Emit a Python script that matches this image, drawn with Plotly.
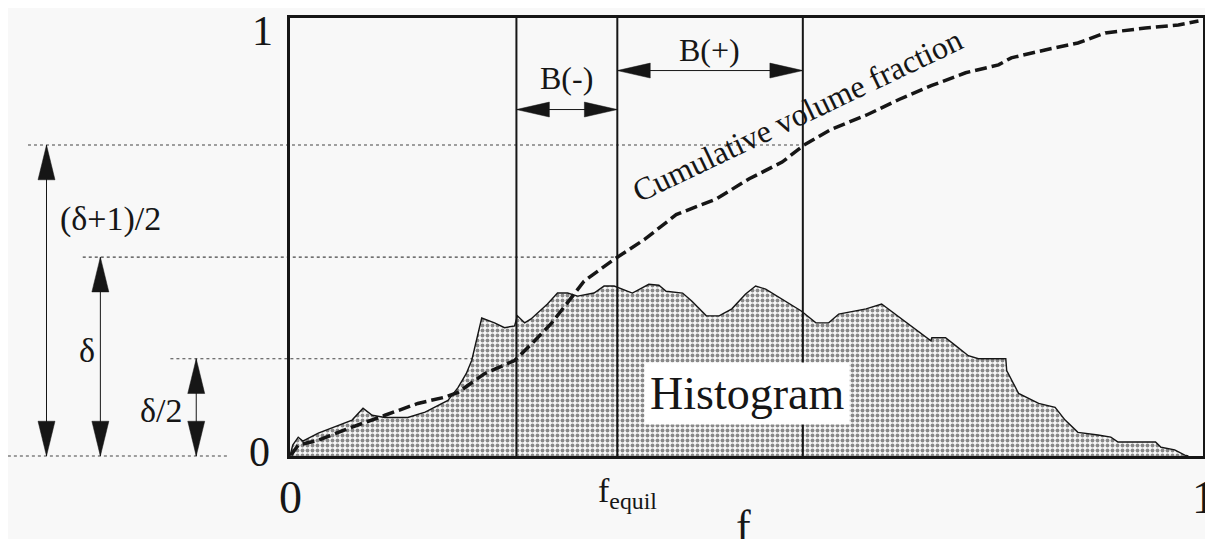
import plotly.graph_objects as go

# ---------------- data ----------------
# histogram outline (f, normalised height)
hist_f = [0.0, 0.003, 0.009, 0.014, 0.031, 0.049, 0.068, 0.080, 0.090, 0.104, 0.129, 0.148,
          0.173, 0.184, 0.193, 0.199, 0.204, 0.210, 0.224, 0.235, 0.246, 0.249, 0.257, 0.264,
          0.282, 0.293, 0.304, 0.315, 0.333, 0.344, 0.355, 0.375, 0.393, 0.404, 0.412, 0.430,
          0.440, 0.456, 0.470, 0.484, 0.499, 0.510, 0.521, 0.539, 0.560, 0.576, 0.590, 0.601,
          0.631, 0.648, 0.667, 0.681, 0.692, 0.702, 0.703, 0.718, 0.729, 0.743, 0.754, 0.784,
          0.785, 0.798, 0.820, 0.838, 0.849, 0.863, 0.885, 0.899, 0.907, 0.948, 0.954, 0.969,
          0.980, 0.984]
hist_h = [0.0, 0.025, 0.043, 0.034, 0.052, 0.066, 0.082, 0.109, 0.093, 0.088, 0.088, 0.100,
          0.127, 0.156, 0.188, 0.218, 0.263, 0.315, 0.304, 0.293, 0.297, 0.320, 0.304, 0.313,
          0.347, 0.372, 0.372, 0.365, 0.372, 0.388, 0.388, 0.372, 0.392, 0.390, 0.376, 0.372,
          0.354, 0.320, 0.320, 0.336, 0.370, 0.388, 0.381, 0.358, 0.331, 0.304, 0.304, 0.324,
          0.336, 0.347, 0.317, 0.297, 0.279, 0.263, 0.270, 0.270, 0.252, 0.229, 0.222, 0.222,
          0.195, 0.143, 0.120, 0.111, 0.082, 0.054, 0.048, 0.043, 0.032, 0.032, 0.020, 0.014,
          0.002, 0.0]

# cumulative volume fraction
cum_f = [0.001, 0.009, 0.031, 0.068, 0.104, 0.140, 0.169, 0.184, 0.213, 0.246, 0.268, 0.286,
         0.308, 0.322, 0.355, 0.388, 0.423, 0.467, 0.503, 0.539, 0.563, 0.593, 0.631, 0.667,
         0.703, 0.740, 0.776, 0.790, 0.827, 0.863, 0.893, 0.937, 0.973, 0.995]
cum_v = [0.002, 0.025, 0.036, 0.066, 0.093, 0.120, 0.134, 0.145, 0.188, 0.218, 0.263, 0.302,
         0.361, 0.399, 0.449, 0.494, 0.551, 0.587, 0.633, 0.671, 0.710, 0.746, 0.778, 0.814,
         0.846, 0.875, 0.893, 0.909, 0.927, 0.943, 0.966, 0.977, 0.984, 0.993]

# characteristic positions
f_bneg, f_equil, f_bpos = 0.248, 0.3585, 0.5617
level_half, level_delta, level_top = 0.222, 0.454, 0.710

# tick labels
y_tick_labels = ["0", "1"]
x_tick_labels = ["0", "f<sub>equil</sub>", "1"]

# ---------------- figure ----------------
# the page body has an 8px default margin, so the figure is 8px smaller
W, H = 1205, 531
ML, MR, MT, MB = 282, 8, 7, 83
PW, PH = W - ML - MR, H - MT - MB
px = 1.0 / PW   # paper units per pixel
py = 1.0 / PH

FONT = "Liberation Serif"
INK = "#161616"
BG = "#f8f8f8"

fig = go.Figure()

fig.add_trace(go.Scatter(
    x=hist_f, y=hist_h, mode="lines", fill="tozeroy",
    line=dict(color=INK, width=1.4),
    fillcolor="rgba(0,0,0,0)",
    fillpattern=dict(shape=".", fgcolor="#1a1a1a", bgcolor=BG, size=5, solidity=0.5),
    hoverinfo="skip", showlegend=False))

fig.add_trace(go.Scatter(
    x=cum_f, y=cum_v, mode="lines",
    line=dict(color=INK, width=3.5, dash="12px,5px"),
    hoverinfo="skip", showlegend=False))

shapes = []

def seg(x0, y0, x1, y1, width=1, dash="solid", color=INK, layer="above", xref="paper", yref="paper"):
    shapes.append(dict(type="line", x0=x0, y0=y0, x1=x1, y1=y1, xref=xref, yref=yref,
                       line=dict(color=color, width=width, dash=dash), layer=layer))

def tri(tx, ty, direction, length, half):
    # tx,ty tip in paper coords; length/half in pixels
    if direction == "up":
        pts = [(tx, ty), (tx - half * px, ty - length * py), (tx + half * px, ty - length * py)]
    elif direction == "down":
        pts = [(tx, ty), (tx - half * px, ty + length * py), (tx + half * px, ty + length * py)]
    elif direction == "left":
        pts = [(tx, ty), (tx + length * px, ty + half * py), (tx + length * px, ty - half * py)]
    else:
        pts = [(tx, ty), (tx - length * px, ty + half * py), (tx - length * px, ty - half * py)]
    path = "M " + " L ".join(f"{a:.5f},{b:.5f}" for a, b in pts) + " Z"
    shapes.append(dict(type="path", path=path, xref="paper", yref="paper",
                       fillcolor=INK, line=dict(color=INK, width=0.5), layer="above"))

# dotted reference levels (drawn below traces)
seg(-0.287, level_top, f_bpos, level_top, width=1.2, dash="dot", color="#444", layer="below")
seg(-0.227, level_delta, f_equil, level_delta, width=1.2, dash="dot", color="#444", layer="below")
seg(-0.131, level_half, f_bneg, level_half, width=1.2, dash="dot", color="#444", layer="below")
seg(-0.309, 0.0, -0.066, 0.0, width=1.2, dash="dot", color="#444", layer="below")

# vertical lines in plot
for fv in (f_bneg, f_equil, f_bpos):
    seg(fv, 0, fv, 1, width=2, xref="x", yref="paper")

# left double arrows
for ax_, lvl in ((-0.2667, level_top), (-0.2077, level_delta), (-0.1027, level_half)):
    seg(ax_, 0.0, ax_, lvl, width=1)
    tri(ax_, lvl, "up", 35, 8.5)
    tri(ax_, 0.0, "down", 35, 8.5)

# B(-) and B(+) arrows
yb_neg, yb_pos = 0.791, 0.880
seg(f_bneg, yb_neg, f_equil, yb_neg, width=1)
tri(f_bneg, yb_neg, "left", 33, 7.5)
tri(f_equil, yb_neg, "right", 33, 7.5)
seg(f_equil, yb_pos, f_bpos, yb_pos, width=1)
tri(f_equil, yb_pos, "left", 33, 7.5)
tri(f_bpos, yb_pos, "right", 33, 7.5)

annotations = []

def label(text, x, y, size, angle=0, bg=None, xref="paper", yref="paper", pad=1):
    annotations.append(dict(text=text, x=x, y=y, xref=xref, yref=yref, showarrow=False,
                            font=dict(family=FONT, size=size, color=INK), textangle=angle,
                            xanchor="center", yanchor="middle",
                            bgcolor=bg, borderpad=pad))

label("B(-)", 0.303, 0.862, 32)
label("B(+)", 0.459, 0.927, 32)
label("Cumulative volume fraction", 0.556, 0.778, 32, angle=-25.5)
label("Histogram", 0.500, 0.142, 46, bg="white", pad=5)
label("(δ+1)/2", -0.197, 0.542, 34)
label("δ", -0.222, 0.240, 34)
label("δ/2", -0.141, 0.104, 34)

# tick labels
label(y_tick_labels[1], -0.030, 0.971, 42)
label(y_tick_labels[0], -0.033, 0.009, 42)
label(x_tick_labels[0], 0.001, -0.095, 46)
label(x_tick_labels[1], 0.370, -0.084, 34)
label(x_tick_labels[2], 1.0, -0.095, 46)
label("f", 0.497, -0.160, 44)

fig.update_layout(
    width=W, height=H,
    margin=dict(l=ML, r=MR, t=MT, b=MB),
    paper_bgcolor=BG, plot_bgcolor="rgba(0,0,0,0)",
    shapes=shapes, annotations=annotations,
    showlegend=False,
    xaxis=dict(range=[0, 1], showgrid=False, zeroline=False, showticklabels=False,
               ticks="", showline=True, mirror=True, linecolor=INK, linewidth=3,
               fixedrange=True),
    yaxis=dict(range=[0, 1], showgrid=False, zeroline=False, showticklabels=False,
               ticks="", showline=True, mirror=True, linecolor=INK, linewidth=3,
               fixedrange=True),
)

fig.write_html("out.html")
